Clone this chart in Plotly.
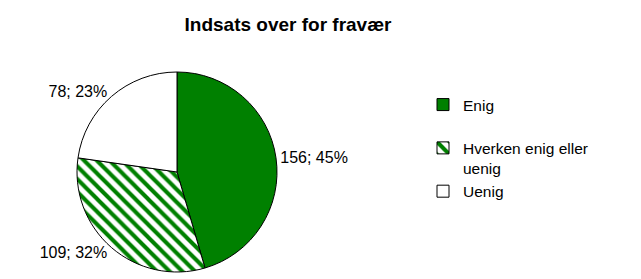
import plotly.graph_objects as go

title_text = "Indsats over for fravær"
categories = ["Enig", "Hverken enig eller uenig", "Uenig"]
counts = [156, 109, 78]

W, H = 641, 279
FONT = "Liberation Sans, Arial, sans-serif"

# legend display: wrap long label and leave Excel-like spacing after first item
legend_labels = [
    categories[0] + "<br> ",
    categories[1].replace(" uenig", "<br>uenig"),
    categories[2],
]

fig = go.Figure()
fig.add_trace(go.Pie(
    labels=legend_labels,
    values=counts,
    sort=False,
    direction="clockwise",
    rotation=0,
    marker=dict(
        colors=["#008000", "#ffffff", "#ffffff"],
        line=dict(color="#000000", width=1),
        pattern=dict(
            shape=["", "\\", ""],
            fgcolor="#008000",
            bgcolor="#ffffff",
            size=9,
            solidity=0.45,
        ),
    ),
    texttemplate="%{value}; %{percent:.0%}",
    textposition="outside",
    textfont=dict(family=FONT, size=16, color="#000000"),
    domain=dict(x=[69 / W, 269 / W], y=[1 - 264 / H, 1 - 64 / H]),
    hoverinfo="skip",
))

fig.update_layout(
    width=W, height=H,
    margin=dict(l=0, r=0, t=0, b=0),
    paper_bgcolor="#ffffff",
    plot_bgcolor="#ffffff",
    title=dict(text="<b>" + title_text + "</b>", x=280 / W, xanchor="center",
               y=1 - 16 / H, yanchor="middle",
               font=dict(family=FONT, size=19, color="#000000")),
    legend=dict(x=415 / W, y=1 - 80 / H, xanchor="left", yanchor="top",
                valign="top",
                font=dict(family=FONT, size=15.5, color="#000000"),
                tracegroupgap=0, itemclick=False),
    showlegend=True,
)

fig.write_html("out.html")
